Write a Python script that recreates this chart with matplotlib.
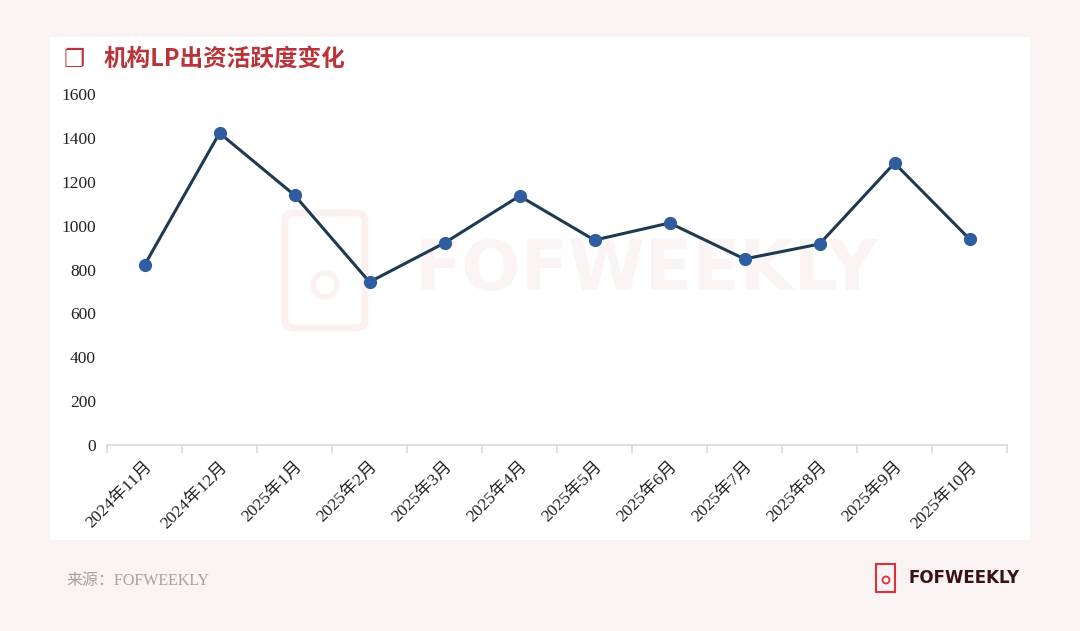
import matplotlib.pyplot as plt
from matplotlib.patches import Rectangle, FancyBboxPatch, Ellipse

months = ['2024年11月', '2024年12月', '2025年1月', '2025年2月', '2025年3月', '2025年4月',
          '2025年5月', '2025年6月', '2025年7月', '2025年8月', '2025年9月', '2025年10月']
values = [820, 1422, 1139, 743, 921, 1135, 934, 1012, 848, 916, 1285, 939]
yticks = [0, 200, 400, 600, 800, 1000, 1200, 1400, 1600]

serif = ['Liberation Serif', 'Noto Sans CJK SC']
cjk = ['Noto Sans CJK SC', 'DejaVu Sans']
plt.rcParams['font.family'] = serif

W, H = 1080, 631
fig = plt.figure(figsize=(10.8, 6.31), dpi=100)
fig.patch.set_facecolor('#f9f3f3')

def fx(px):
    return px / W

def fy(py):
    return 1 - py / H

# white card
fig.patches.append(Rectangle((fx(50), fy(540)), 980 / W, 503 / H,
                             transform=fig.transFigure, facecolor='white',
                             edgecolor='none', zorder=0))

# faint watermark
wm = '#fbf1f1'
fig.patches.append(FancyBboxPatch((fx(285), fy(328)), 80 / W, 115 / H,
                                  boxstyle='round,pad=0,rounding_size=0.01',
                                  transform=fig.transFigure, facecolor='none',
                                  edgecolor=wm, linewidth=5, zorder=1))
fig.patches.append(Ellipse((fx(325), fy(285)), 24 / W, 24 / H, transform=fig.transFigure,
                           facecolor='none', edgecolor=wm, linewidth=4, zorder=1))
fig.text(fx(415), fy(270), 'FOFWEEKLY', fontsize=50, fontweight='heavy',
         family='DejaVu Sans', color='#fbf4f4', va='center', ha='left', zorder=1)

ax = fig.add_axes([fx(107), fy(445), 900 / W, 351 / H])
ax.set_zorder(5)
ax.set_facecolor('none')
x = list(range(len(months)))
ax.plot(x, values, color='#1e3a52', linewidth=2.2, zorder=3)
ax.plot(x, values, 'o', color='#2f5d9f', markersize=8.5, zorder=4)

ax.set_xlim(-0.5, len(months) - 0.5)
ax.set_ylim(0, 1600)
ax.set_yticks(yticks)
ax.set_yticklabels([str(v) for v in yticks], fontsize=12.5, color='#222222')
ax.tick_params(axis='y', length=0, pad=8)

ax.set_xticks(x)
ax.set_xticklabels(months, rotation=45, ha='right', rotation_mode='anchor',
                   fontsize=12.5, color='#222222')
ax.tick_params(axis='x', which='major', length=0, pad=10)
ax.set_xticks([i - 0.5 for i in range(len(months) + 1)], minor=True)
ax.tick_params(axis='x', which='minor', length=6, color='#d9d9d9', width=1.2)

for s in ['top', 'right', 'left']:
    ax.spines[s].set_visible(False)
ax.spines['bottom'].set_color('#d9d9d9')
ax.spines['bottom'].set_linewidth(1.2)

# title
fig.text(fx(64), fy(60), '❐', fontsize=17, color='#b8343a',
         family=['DejaVu Sans'], va='center', ha='left', fontweight='bold')
fig.text(fx(103), fy(60), '机构LP出资活跃度变化', fontsize=17, color='#b8343a',
         family=cjk, va='center', ha='left', fontweight='bold')

# source
fig.text(fx(66), fy(581), '来源：FOFWEEKLY', fontsize=11.5, color='#a3a3a3',
         family=serif, va='center', ha='left')

# logo
fig.patches.append(Rectangle((fx(876), fy(592)), 19 / W, 28 / H,
                             transform=fig.transFigure, facecolor='none',
                             edgecolor='#d8323a', linewidth=1.5, zorder=2))
fig.patches.append(Ellipse((fx(886), fy(580)), 7 / W, 7 / H, transform=fig.transFigure,
                           facecolor='none', edgecolor='#d8323a', linewidth=1.3, zorder=3))
fig.text(fx(909), fy(578), 'FOFWEEKLY', fontsize=12, fontweight='heavy',
         family='DejaVu Sans', color='#3b1214', va='center', ha='left')

fig.savefig('out.png', dpi=100, facecolor=fig.get_facecolor())
